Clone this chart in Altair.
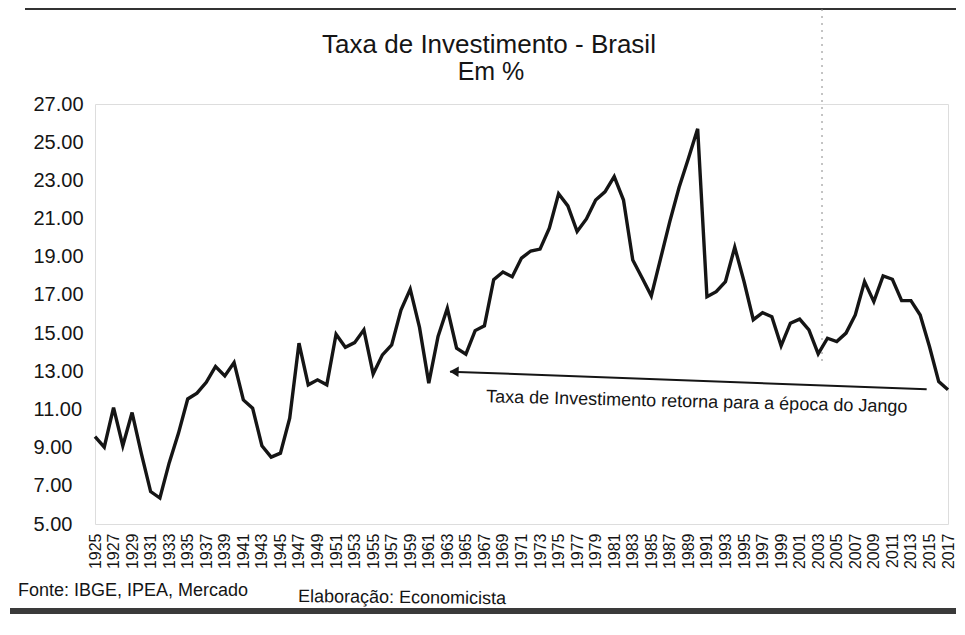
import altair as alt
import pandas as pd

# ---- data ----
years = list(range(1925, 2018))
taxa = [
    9.58, 9.03, 11.10, 9.10, 10.84, 8.68, 6.70, 6.36, 8.20, 9.75,      # 1925-1934
    11.55, 11.85, 12.42, 13.25, 12.76, 13.46, 11.50, 11.07, 9.10, 8.50,  # 1935-1944
    8.71, 10.54, 14.47, 12.29, 12.55, 12.29, 14.94, 14.26, 14.50, 15.17, # 1945-1954
    12.86, 13.86, 14.38, 16.20, 17.30, 15.30, 12.38, 14.82, 16.30, 14.21, # 1955-1964
    13.90, 15.13, 15.38, 17.80, 18.20, 17.95, 18.93, 19.30, 19.40, 20.50, # 1965-1974
    22.30, 21.66, 20.32, 20.98, 21.97, 22.40, 23.20, 21.97, 18.83, 17.90, # 1975-1984
    16.95, 18.90, 20.85, 22.64, 24.15, 25.70, 16.90, 17.17, 17.70, 19.50, # 1985-1994
    17.70, 15.70, 16.07, 15.86, 14.33, 15.52, 15.73, 15.17, 13.91, 14.73, # 1995-2004
    14.56, 15.00, 15.95, 17.70, 16.65, 18.00, 17.82, 16.70, 16.70, 15.95, # 2005-2014
    14.30, 12.46, 12.03,                                                  # 2015-2017
]
assert len(taxa) == len(years)

x_tick_years = list(range(1925, 2018, 2))
y_ticks = list(range(5, 28, 2))

titulo = "Taxa de Investimento - Brasil"
subtitulo = "Em %"
nota = "Taxa de Investimento retorna para a época do Jango"
fonte = "Fonte: IBGE, IPEA, Mercado"
elaboracao = "Elaboração: Economicista"

# arrow annotation (data coordinates)
seta_anos = [1963.3, 2014.7]
seta_valores = [12.98, 12.06]
nota_ano = [1989.9]
nota_valor = [11.37]

FONT = "Liberation Sans"
INK = "#151515"

df = pd.DataFrame({"ano": years, "taxa": taxa})
seta_df = pd.DataFrame({"ano": seta_anos, "taxa": seta_valores})
nota_df = pd.DataFrame({"ano": nota_ano, "taxa": nota_valor, "t": [nota]})

xs = alt.Scale(domain=[1925, 2017], nice=False, zero=False)
ys = alt.Scale(domain=[5, 27], nice=False, zero=False)

x_axis = alt.Axis(
    values=x_tick_years, format="d", labelAngle=270, labelFontSize=16,
    labelFont=FONT, labelColor=INK, labelPadding=9, ticks=False, domain=False,
    grid=False, labelOverlap=False, labelFlush=False,
)
y_axis = alt.Axis(
    values=y_ticks, format=".2f", labelFontSize=20, labelFont=FONT,
    labelColor=INK, labelAlign="left", labelPadding=62, ticks=False,
    tickSize=0, domain=False, grid=False, labelFlush=False,
)

X = alt.X("ano:Q", scale=xs, axis=x_axis, title=None)
Y = alt.Y("taxa:Q", scale=ys, axis=y_axis, title=None)

linha = alt.Chart(df).mark_line(color=INK, strokeWidth=3.4).encode(x=X, y=Y)

seta = alt.Chart(seta_df).mark_line(color=INK, strokeWidth=2).encode(x=X, y=Y)
ponta = alt.Chart(seta_df.iloc[[0]]).mark_point(
    shape="triangle-left", filled=True, size=110, color=INK, opacity=1,
    angle=2, xOffset=4,
).encode(x=X, y=Y)

texto_nota = alt.Chart(nota_df).mark_text(
    font=FONT, fontSize=18, color=INK, angle=1.4,
).encode(x=X, y=Y, text="t:N")


def texto(t, x, y, size, align="left", angle=0):
    return alt.Chart(pd.DataFrame({"t": [t]})).mark_text(
        font=FONT, fontSize=size, color=INK, align=align, baseline="middle",
        angle=angle,
    ).encode(x=alt.value(x), y=alt.value(y), text="t:N")


cab1 = texto(titulo, 394, -59, 26, align="center")
cab2 = texto(subtitulo, 396, -32, 25, align="center")
rodape1 = texto(fonte, -77, 487, 18)
rodape2 = texto(elaboracao, 203, 493, 18, angle=0.6)

borda_sup = alt.Chart(pd.DataFrame({"k": [0]})).mark_rule(
    color="#333", strokeWidth=2,
).encode(x=alt.value(-70), x2=alt.value(870), y=alt.value(-95))
borda_inf = alt.Chart(pd.DataFrame({"k": [0]})).mark_rule(
    color="#3a3a3a", strokeWidth=6,
).encode(x=alt.value(-85), x2=alt.value(870), y=alt.value(507))
dobra = alt.Chart(pd.DataFrame({"k": [0]})).mark_rule(
    color="#888", strokeWidth=1, strokeDash=[2, 5],
).encode(x=alt.value(727), y=alt.value(-95), y2=alt.value(260))

chart = alt.layer(
    borda_sup, borda_inf, dobra, linha, seta, ponta, texto_nota,
    cab1, cab2, rodape1, rodape2,
).properties(
    width=853,
    height=420,
    padding={"left": 87, "top": 96, "right": 8, "bottom": 100},
    autosize=alt.AutoSizeParams(type="none"),
).configure_view(stroke=None).configure(background="white")

chart.save("out.html", embed_options={"renderer": "svg", "actions": False})
